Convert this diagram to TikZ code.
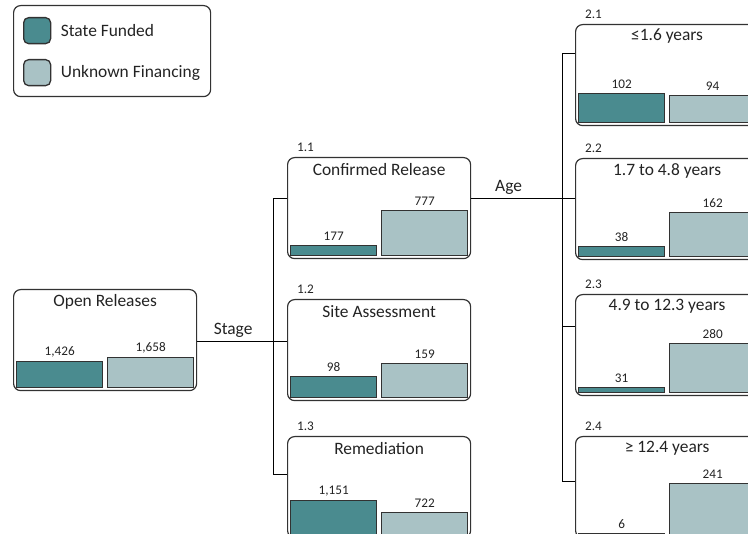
\documentclass[tikz,border=0pt]{standalone}
\usepackage{fontspec}
\setmainfont{Carlito}
\usetikzlibrary{positioning}
\definecolor{stateteal}{RGB}{74,139,143}
\definecolor{unkgray}{RGB}{169,194,197}
\definecolor{boxline}{RGB}{50,50,50}
\definecolor{inktext}{RGB}{35,35,35}

\begin{document}
\begin{tikzpicture}[x=1pt,y=-1pt,
every node/.style={text=inktext},
box/.style={draw=boxline, line width=1.2pt, rounded corners=7pt, minimum width=183pt, minimum height=101pt, anchor=north west, inner sep=0pt},
bar/.style={draw=boxline, line width=1.3pt, anchor=south west, minimum width=86pt, inner sep=0pt},
fund/.style={bar, fill=stateteal},
unk/.style={bar, fill=unkgray},
swatch/.style={draw=boxline, line width=1.3pt, rounded corners=5pt, minimum width=27pt, minimum height=26pt, anchor=north west, inner sep=0pt},
title/.style={font=\fontsize{17.4}{20}\selectfont},
num/.style={font=\fontsize{13.2}{15}\selectfont, inner sep=1pt},
tag/.style={num, inner sep=0pt},
conn/.style={draw=black, line width=0.9pt}
]
\useasboundingbox (0,0) rectangle (748,534);
\clip (0,0) rectangle (748,534);

% legend
\node[box, minimum width=197pt, minimum height=91pt] (legend) at (13,5) {};
\node[swatch, fill=stateteal] (sw1) at (23,17) {};
\node[swatch, fill=unkgray] (sw2) at (23,59) {};
\node[title, right=6pt of sw1] {State Funded};
\node[title, right=6pt of sw2] {Unknown Financing};

% boxes with the two bars
\foreach \n/\x/\y/\e/\txt/\a/\ha/\b/\hb in {
  open/13/289/52/Open Releases/{1,426}/26/{1,658}/30,
  c11/287/157/41/Confirmed Release/177/10/777/45,
  c12/287/299/42/Site Assessment/98/21/159/34,
  c13/287/436/38/Remediation/{1,151}/34/722/22,
  c21/575/24/29/≤1.6 years/102/29/94/27,
  c22/575/158/40/1.7 to 4.8 years/38/10/162/44,
  c23/575/294/32/4.9 to 12.3 years/31/5/280/49,
  c24/575/436/45/≥ 12.4 years/6/1/241/51}{
  \node[box] (\n) at (\x,\y) {};
  \node[title] at ([yshift=-12.5pt]\n.north) {\txt};
  \node[fund, minimum height=\ha pt] (\n-a) at ([xshift=3pt,yshift=3pt]\n.south west) {};
  \node[unk, minimum height=\hb pt] (\n-b) at ([xshift=94pt,yshift=3pt]\n.south west) {};
  \node[num, above=3pt of \n-a] {\a};
  \node[num, above=3pt of \n-b] {\b};
  \coordinate (\n-w) at ([yshift=-\e pt]\n.north west);
  \coordinate (\n-e) at ([yshift=-\e pt]\n.north east);
}
\foreach \n/\tg in {c11/1.1, c12/1.2, c13/1.3, c21/2.1, c22/2.2, c23/2.3, c24/2.4}
  \node[tag, above right=5pt and 10pt of \n.north west] {\tg};

% connectors
\coordinate (stagebus) at (273,0);
\coordinate (agebus) at (562,0);
\draw[conn] (open-e) -- node[title, above, pos=.4] {Stage} (c12-w);
\draw[conn] (c11-w) -| (stagebus |- c13-w) -- (c13-w);
\draw[conn] (c11-e) -- node[title, above, pos=.36] {Age} (c22-w);
\draw[conn] (c21-w) -| (agebus |- c24-w) -- (c24-w);
\draw[conn] (agebus |- c23-w) -- (c23-w);
\end{tikzpicture}
\end{document}
